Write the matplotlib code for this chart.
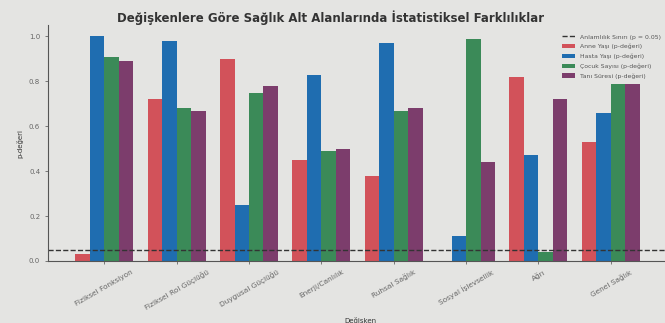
import numpy as np
import matplotlib.pyplot as plt

categories = ['Fiziksel Fonksiyon', 'Fiziksel Rol Güçlüğü', 'Duygusal Güçlüğü',
              'Enerji/Canlılık', 'Ruhsal Sağlık', 'Sosyal İşlevsellik', 'Ağrı',
              'Genel Sağlık']
anne_yasi = [0.03, 0.72, 0.90, 0.45, 0.38, 0.002, 0.82, 0.53]
hasta_yasi = [1.00, 0.98, 0.25, 0.83, 0.97, 0.11, 0.47, 0.66]
cocuk_sayisi = [0.91, 0.68, 0.75, 0.49, 0.67, 0.99, 0.04, 0.79]
tani_suresi = [0.89, 0.67, 0.78, 0.50, 0.68, 0.44, 0.72, 0.79]
series_labels = ['Anne Yaşı (p-değeri)', 'Hasta Yaşı (p-değeri)',
                 'Çocuk Sayısı (p-değeri)', 'Tanı Süresi (p-değeri)']
alpha_level = 0.05

colors = ['#d2525a', '#1f6db0', '#3b8a58', '#7c3d6c']
bg = '#e4e4e2'

fig = plt.figure(figsize=(6.65, 3.23), dpi=100, facecolor=bg)
ax = fig.add_axes([0.072, 0.192, 0.94, 0.73], facecolor=bg)

x = np.arange(len(categories))
w = 0.2
data = [anne_yasi, hasta_yasi, cocuk_sayisi, tani_suresi]
for i, (vals, lab, c) in enumerate(zip(data, series_labels, colors)):
    ax.bar(x + (i - 1.5) * w, vals, w, label=lab, color=c)

ax.axhline(alpha_level, color='#333333', linestyle='--', linewidth=1,
           label='Anlamlılık Sınırı (p = 0.05)')

ax.set_xlim(-0.78, 7.86)
ax.set_ylim(0, 1.05)
ax.set_xticks(x)
ax.set_xticklabels(categories, rotation=30, ha='center', fontsize=5.3, color='#333333')
ax.set_yticks([0, 0.2, 0.4, 0.6, 0.8, 1.0])
ax.set_yticklabels(['0.0', '0.2', '0.4', '0.6', '0.8', '1.0'], fontsize=5, color='#555555')
ax.tick_params(length=2, width=0.6, colors='#666666')
for s in ['top', 'right']:
    ax.spines[s].set_visible(False)
for s in ['left', 'bottom']:
    ax.spines[s].set_color('#555555')
    ax.spines[s].set_linewidth(0.8)

ax.set_ylabel('p-değeri', fontsize=5, color='#333333')
ax.set_xlabel('Değişken', fontsize=5, color='#333333')
fig.text(0.497, 0.945, 'Değişkenlere Göre Sağlık Alt Alanlarında İstatistiksel Farklılıklar',
         ha='center', va='center', fontsize=8.5, fontweight='bold', color='#333333')

leg = ax.legend(loc='upper right', bbox_to_anchor=(0.99, 0.985), fontsize=4.4,
                frameon=False, handlelength=2.2, labelspacing=0.7)
for t in leg.get_texts():
    t.set_color('#555555')

fig.savefig('out.png', dpi=100, facecolor=bg)
